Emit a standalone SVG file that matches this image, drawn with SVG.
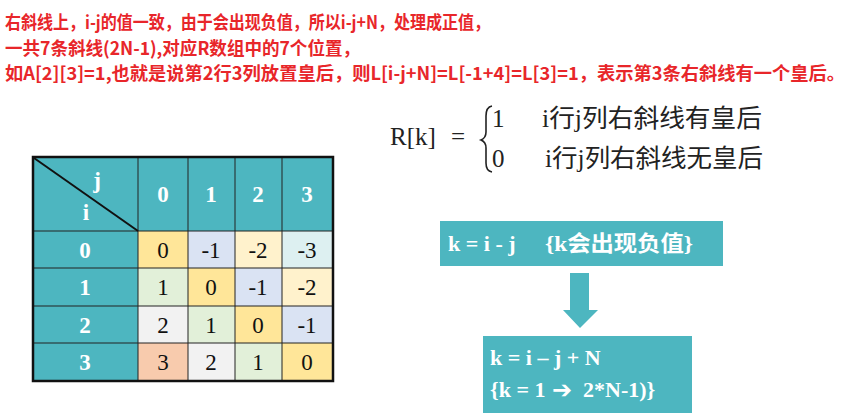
<svg xmlns="http://www.w3.org/2000/svg" width="851" height="418" viewBox="0 0 851 418">
<style>
.note{font-family:"Noto Sans CJK SC","Noto Sans",sans-serif;font-weight:bold;font-size:18px;fill:#E8262A}
.hd{font-family:"Liberation Serif","Noto Sans CJK SC",serif;font-weight:bold;font-size:23px;fill:#fff;text-anchor:middle}
.cv{font-family:"Liberation Serif",serif;font-size:23px;fill:#111;text-anchor:middle}
.f{font-family:"Liberation Serif","Noto Sans CJK SC",serif;font-size:25px;fill:#222}
.bx{font-family:"Liberation Serif","Noto Sans CJK SC",serif;font-weight:bold;font-size:22px;fill:#fff}
.tl{fill:#4DB6C0}
</style>
<rect width="851" height="418" fill="#fff"/>
<g id="note">
<text class="note" x="5" y="29" textLength="485" lengthAdjust="spacingAndGlyphs">右斜线上，i-j的值一致，由于会出现负值，所以i-j+N，处理成正值，</text>
<text class="note" x="5" y="55" textLength="355" lengthAdjust="spacingAndGlyphs">一共7条斜线(2N-1),对应R数组中的7个位置，</text>
<text class="note" x="5" y="80" textLength="840" lengthAdjust="spacingAndGlyphs">如A[2][3]=1,也就是说第2行3列放置皇后，则L[i-j+N]=L[-1+4]=L[3]=1，表示第3条右斜线有一个皇后。</text>
</g>
<g id="table">
<rect class="tl" x="33" y="157" width="300" height="224"/>
<rect x="138" y="231" width="50" height="37" fill="#FFE699"/>
<rect x="188" y="231" width="47" height="37" fill="#DAE3F3"/>
<rect x="235" y="231" width="47" height="37" fill="#FFF2CC"/>
<rect x="282" y="231" width="51" height="37" fill="#DDF0F1"/>
<rect x="138" y="268" width="50" height="38" fill="#E2F0D9"/>
<rect x="188" y="268" width="47" height="38" fill="#FFE699"/>
<rect x="235" y="268" width="47" height="38" fill="#DAE3F3"/>
<rect x="282" y="268" width="51" height="38" fill="#FFF2CC"/>
<rect x="138" y="306" width="50" height="37" fill="#F2F2F2"/>
<rect x="188" y="306" width="47" height="37" fill="#E2F0D9"/>
<rect x="235" y="306" width="47" height="37" fill="#FFE699"/>
<rect x="282" y="306" width="51" height="37" fill="#DAE3F3"/>
<rect x="138" y="343" width="50" height="38" fill="#F8CBAD"/>
<rect x="188" y="343" width="47" height="38" fill="#F2F2F2"/>
<rect x="235" y="343" width="47" height="38" fill="#E2F0D9"/>
<rect x="282" y="343" width="51" height="38" fill="#FFE699"/>
<g fill="none" stroke="#222" stroke-width="1">
<line x1="33" y1="231" x2="333" y2="231"/>
<line x1="33" y1="268" x2="333" y2="268"/>
<line x1="33" y1="306" x2="333" y2="306"/>
<line x1="33" y1="343" x2="333" y2="343"/>
<line x1="138" y1="157" x2="138" y2="381"/>
<line x1="188" y1="157" x2="188" y2="381"/>
<line x1="235" y1="157" x2="235" y2="381"/>
<line x1="282" y1="157" x2="282" y2="381"/>
</g>
<line x1="34" y1="158" x2="138" y2="231" stroke="#111" stroke-width="2"/>
<rect x="33" y="157" width="300" height="224" fill="none" stroke="#111" stroke-width="2.5"/>
<text class="hd" x="97" y="188">j</text>
<text class="hd" x="86" y="220">i</text>
<text class="hd" x="163" y="202">0</text>
<text class="hd" x="211" y="202">1</text>
<text class="hd" x="258" y="202">2</text>
<text class="hd" x="307" y="202">3</text>
<text class="hd" x="85" y="258">0</text>
<text class="hd" x="85" y="295">1</text>
<text class="hd" x="85" y="333">2</text>
<text class="hd" x="85" y="370">3</text>
<text class="cv" x="163" y="258">0</text>
<text class="cv" x="211" y="258">-1</text>
<text class="cv" x="258" y="258">-2</text>
<text class="cv" x="307" y="258">-3</text>
<text class="cv" x="163" y="295">1</text>
<text class="cv" x="211" y="295">0</text>
<text class="cv" x="258" y="295">-1</text>
<text class="cv" x="307" y="295">-2</text>
<text class="cv" x="163" y="333">2</text>
<text class="cv" x="211" y="333">1</text>
<text class="cv" x="258" y="333">0</text>
<text class="cv" x="307" y="333">-1</text>
<text class="cv" x="163" y="370">3</text>
<text class="cv" x="211" y="370">2</text>
<text class="cv" x="258" y="370">1</text>
<text class="cv" x="307" y="370">0</text>
</g>
<g id="formula">
<text class="f" x="390" y="145">R[k]</text>
<text class="f" x="451" y="145">=</text>
<path d="M492 106 Q486 107 486 116 L486 132 Q486 138 481 140 Q486 142 486 148 L486 163 Q486 171 492 172" fill="none" stroke="#222" stroke-width="1.6"/>
<text class="f" x="492" y="127">1</text>
<text class="f" x="542" y="127" textLength="220" lengthAdjust="spacingAndGlyphs">i行j列右斜线有皇后</text>
<text class="f" x="492" y="167">0</text>
<text class="f" x="545" y="167" textLength="218" lengthAdjust="spacingAndGlyphs">i行j列右斜线无皇后</text>
</g>
<g id="box1">
<rect class="tl" x="440" y="221" width="283" height="45"/>
<text class="bx" x="448" y="251">k = i - j</text>
<text class="bx" x="545" y="251" textLength="148" lengthAdjust="spacingAndGlyphs">{k会出现负值}</text>
</g>
<g id="connectors">
<path class="tl" d="M570 273 H589 V310 H598 L580 328 L563 310 H570 Z"/>
</g>
<g id="box2">
<rect class="tl" x="483" y="336" width="209" height="77"/>
<text class="bx" x="490" y="365">k = i – j + N</text>
<text class="bx" x="490" y="397">{k = 1</text>
<text class="bx" x="552" y="398" style="font-family:'DejaVu Sans',sans-serif;font-size:24px">➔</text>
<text class="bx" x="583" y="397">2*N-1)}</text>
</g>
</svg>
